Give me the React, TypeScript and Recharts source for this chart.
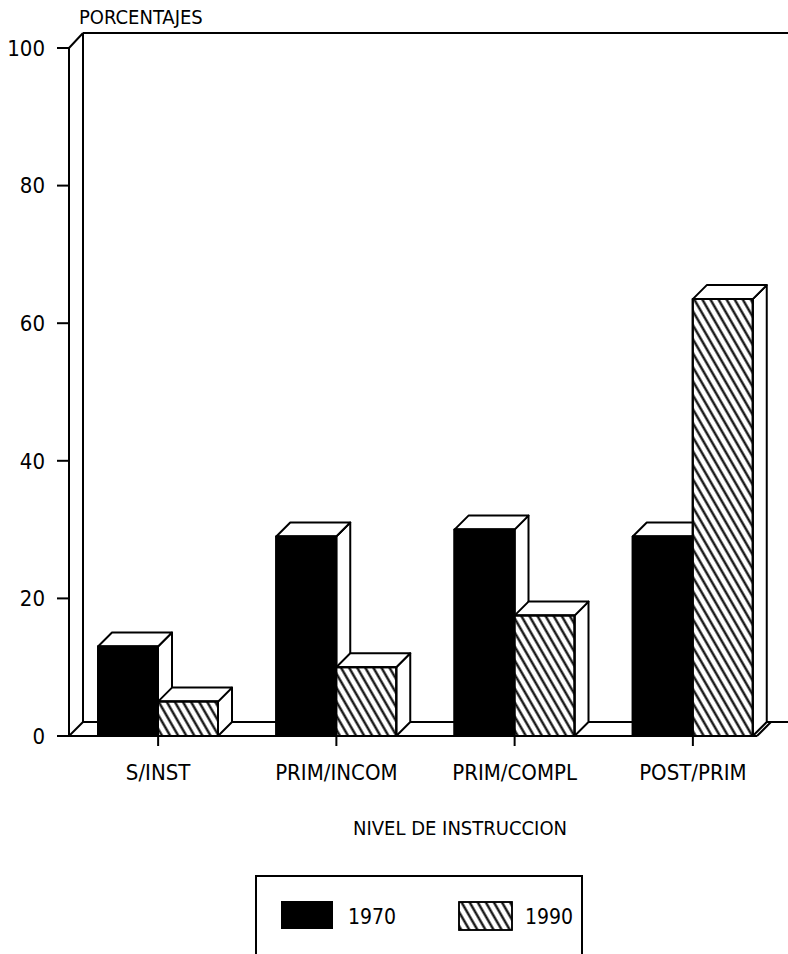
import { BarChart, Bar, XAxis, YAxis, useOffset, useChartWidth, useChartHeight } from "recharts";

const categories = ["S/INST", "PRIM/INCOM", "PRIM/COMPL", "POST/PRIM"];
const values1970 = [13, 29, 30, 29];
const values1990 = [5, 10, 17.5, 63.5];
const yTicks = [0, 20, 40, 60, 80, 100];

const data = categories.map((nivel, i) => ({
  nivel,
  y1970: values1970[i],
  y1990: values1990[i],
}));

const FONT = "'DejaVu Sans Condensed', 'DejaVu Sans', sans-serif";
const DEPTH = 14;

// box with a white top and side, front face filled black or hatched
const Bar3D = (props: any) => {
  const { x, y, width, height, fill } = props;
  if (height == null || height <= 0) return null;
  const d = DEPTH;
  const top = `${x},${y} ${x + d},${y - d} ${x + width + d},${y - d} ${x + width},${y}`;
  const side = `${x + width},${y} ${x + width + d},${y - d} ${x + width + d},${y + height - d} ${x + width},${y + height}`;
  return (
    <g stroke="#000" strokeWidth={2} strokeLinejoin="round">
      <polygon points={side} fill="#fff" />
      <polygon points={top} fill="#fff" />
      <rect x={x} y={y} width={width} height={height} fill="#fff" />
      <rect x={x} y={y} width={width} height={height} fill={fill} />
    </g>
  );
};

// back wall and floor of the box
const Walls = () => {
  const offset = useOffset();
  const chartWidth = useChartWidth();
  const chartHeight = useChartHeight();
  if (!offset || !chartWidth || !chartHeight) return null;
  const left = offset.left;
  const top = offset.top;
  const right = chartWidth - offset.right;
  const floorY = chartHeight - offset.bottom;
  const d = DEPTH;
  return (
    <g stroke="#000" strokeWidth={2} fill="none">
      <line x1={left} y1={top} x2={left + d} y2={top - d - 1} />
      <line x1={left + d} y1={top - d - 1} x2={chartWidth} y2={top - d - 1} />
      <line x1={left + d} y1={top - d - 1} x2={left + d} y2={floorY - d} />
      <line x1={left} y1={floorY} x2={left + d} y2={floorY - d} />
      <line x1={left + d} y1={floorY - d} x2={chartWidth} y2={floorY - d} />
      <line x1={left - 12} y1={floorY} x2={right - 25} y2={floorY} />
      <line x1={right - 25} y1={floorY} x2={right - 25 + d} y2={floorY - d} />
    </g>
  );
};

const LegendKey = () => (
  <div
    style={{
      position: "absolute",
      left: 255,
      top: 875,
      width: 328,
      height: 90,
      border: "2px solid #000",
      boxSizing: "border-box",
    }}
  >
    <svg width={326} height={88} style={{ position: "absolute", left: 0, top: 0 }}>
      <defs>
        <pattern id="hatchKey" patternUnits="userSpaceOnUse" width={7} height={14} patternTransform="rotate(-30)">
          <line x1={3.5} y1={0} x2={3.5} y2={14} stroke="#000" strokeWidth={2.2} />
        </pattern>
      </defs>
      <rect x={24} y={24} width={52} height={28} fill="#000" />
      <rect x={202} y={25} width={53} height={28} fill="#fff" stroke="#000" strokeWidth={1.5} />
      <rect x={202} y={25} width={53} height={28} fill="url(#hatchKey)" stroke="#000" strokeWidth={1.5} />
      <text x={91} y={47} fontFamily={FONT} fontSize={21}>1970</text>
      <text x={268} y={47} fontFamily={FONT} fontSize={21}>1990</text>
    </svg>
  </div>
);

export default function App() {
  return (
    <div
      style={{
        position: "absolute",
        left: 0,
        top: 0,
        width: 788,
        height: 954,
        background: "#fff",
        overflow: "hidden",
      }}
    >
      <div
        style={{
          position: "absolute",
          left: 79,
          top: 5,
          fontFamily: FONT,
          fontSize: 20,
          color: "#000",
        }}
      >
        PORCENTAJES
      </div>
      <BarChart
        width={788}
        height={954}
        data={data}
        margin={{ top: 48, right: 6, bottom: 178, left: 0 }}
        barGap={0}
        barSize={60}
      >
        <defs>
          <pattern id="hatch" patternUnits="userSpaceOnUse" width={7} height={14} patternTransform="rotate(-30)">
            <line x1={3.5} y1={0} x2={3.5} y2={14} stroke="#000" strokeWidth={2.2} />
          </pattern>
        </defs>
        <Walls />
        <XAxis
          dataKey="nivel"
          height={40}
          axisLine={false}
          tickLine={{ stroke: "#000", strokeWidth: 2 }}
          tickSize={10}
          tickMargin={18}
          interval={0}
          tick={{ fill: "#000", fontSize: 22, fontFamily: FONT }}
        />
        <YAxis
          domain={[0, 100]}
          ticks={yTicks}
          interval={0}
          width={69}
          axisLine={{ stroke: "#000", strokeWidth: 2 }}
          tickLine={{ stroke: "#000", strokeWidth: 2 }}
          tickSize={12}
          tickMargin={12}
          tick={{ fill: "#000", fontSize: 22, fontFamily: FONT }}
        />
        <Bar dataKey="y1970" fill="#000" shape={Bar3D} isAnimationActive={false} />
        <Bar dataKey="y1990" fill="url(#hatch)" shape={Bar3D} isAnimationActive={false} />
      </BarChart>
      <div
        style={{
          position: "absolute",
          left: 460,
          top: 816,
          transform: "translateX(-50%)",
          fontFamily: FONT,
          fontSize: 20,
          color: "#000",
          whiteSpace: "nowrap",
        }}
      >
        NIVEL DE INSTRUCCION
      </div>
      <LegendKey />
    </div>
  );
}
